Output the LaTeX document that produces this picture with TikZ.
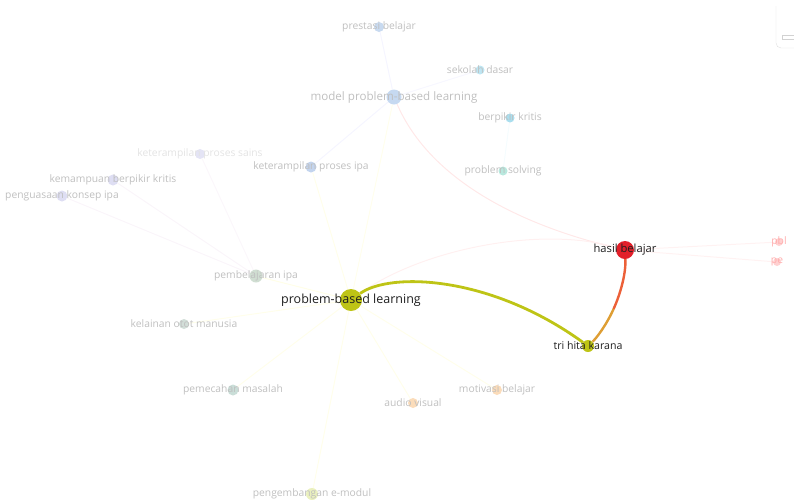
\documentclass[tikz,border=0pt]{standalone}
\usepackage{fontspec}
\setmainfont{Open Sans}
\usetikzlibrary{backgrounds}

\definecolor{pblgreen}{RGB}{190,196,22}
\definecolor{hasilred}{RGB}{226,32,42}
\definecolor{linklow}{RGB}{222,158,52}
\definecolor{linkhigh}{RGB}{236,96,56}

\begin{document}
\begin{tikzpicture}[x=1pt,y=-1pt,
  dot/.style={circle,inner sep=0pt,minimum size=#1},
  lab/.style={text=gray!50,inner sep=0pt,font=\fontsize{10.3}{10}\selectfont},
  hot/.style={text=black!88,inner sep=0pt,font=\fontsize{11.2}{11}\selectfont},
  weak/.style={line width=1pt,draw=#1}]
\useasboundingbox (0,0) rectangle (794,499);
\clip (0,0) rectangle (794,499);

% blue cluster
\node[dot=10,fill={rgb,255:red,200;green,218;blue,240},label={[lab]center:prestasi belajar}] (prestasi) at (379,27) {};
\node[dot=9,fill={rgb,255:red,190;green,230;blue,243},label={[lab]center:sekolah dasar}] (sekolah) at (480,70) {};
\node[dot=15,fill={rgb,255:red,198;green,217;blue,241},label={[lab,font=\fontsize{11.6}{11}\selectfont]center:model problem-based learning}] (mpbl) at (394,97) {};
\node[dot=9,fill={rgb,255:red,170;green,222;blue,238},label={[lab]center:berpikir kritis}] (kritis) at (510,118) {};
\node[dot=11,fill={rgb,255:red,195;green,212;blue,238},label={[lab]center:keterampilan proses ipa}] (kpi) at (311,167) {};
\node[dot=9,fill={rgb,255:red,185;green,232;blue,222},label={[lab]center:problem solving}] (solving) at (503,171) {};

% purple cluster
\node[dot=10,fill={rgb,255:red,228;green,228;blue,245},label={[lab,text=gray!22]center:keterampilan proses sains}] (kps) at (200,154) {};
\node[dot=11,fill={rgb,255:red,222;green,222;blue,243},label={[lab]center:kemampuan berpikir kritis}] (kbk) at (113,180) {};
\node[dot=11,fill={rgb,255:red,222;green,222;blue,243},label={[lab]center:penguasaan konsep ipa}] (konsep) at (62,196) {};

% green cluster
\node[dot=13,fill={rgb,255:red,208;green,222;blue,210},label={[lab]center:pembelajaran ipa}] (pipa) at (256,276) {};
\node[dot=10,fill={rgb,255:red,210;green,222;blue,216},label={[lab]center:kelainan otot manusia}] (otot) at (184,324) {};
\node[dot=11,fill={rgb,255:red,202;green,222;blue,216},label={[lab]center:pemecahan masalah}] (masalah) at (233,390) {};

% orange cluster
\node[dot=10,fill={rgb,255:red,251;green,220;blue,186},label={[lab]center:audio visual}] (audio) at (413,403) {};
\node[dot=10,fill={rgb,255:red,251;green,220;blue,186},label={[lab]center:motivasi belajar}] (motivasi) at (497,390) {};
\node[dot=12,fill={rgb,255:red,234;green,240;blue,190},label={[lab]center:pengembangan e-modul}] (emodul) at (312,494) {};

% pink cluster (cut at the edge)
\node[dot=8,fill=red!18,label={[lab,text=red!32]center:pbl}] (pblx) at (779,242) {};
\node[dot=8,fill=red!18,label={[lab,text=red!32]center:pe}] (pe) at (777,262) {};

% selected items
\node[dot=22,fill=pblgreen,label={[hot,font=\fontsize{12.5}{12}\selectfont]center:problem-based learning}] (pbl) at (351,300) {};
\node[dot=18,fill=hasilred,label={[hot]center:hasil belajar}] (hasil) at (625,250) {};
\node[dot=12,fill=pblgreen,label={[hot,font=\fontsize{10.6}{10}\selectfont]center:tri hita karana}] (thk) at (588,346) {};
\coordinate (bend) at (613.6,308.9);

\begin{scope}[on background layer]
% faint links
\draw[weak=blue!4] (mpbl) -- (prestasi);
\draw[weak=blue!3] (mpbl) -- (sekolah);
\draw[weak=blue!4] (mpbl) -- (kpi);
\draw[weak=cyan!4] (kritis) -- (solving);
\draw[weak=red!9] (mpbl) .. controls (430,180) and (520,225) .. (hasil);
\draw[weak=red!6] (pbl) .. controls (420,250) and (540,225) .. (hasil);
\draw[weak=red!5] (hasil) -- (pblx);
\draw[weak=red!5] (hasil) -- (pe);
\draw[weak=violet!4] (pipa) -- (kbk);
\draw[weak=violet!4] (pipa) -- (konsep);
\draw[weak=violet!3] (pipa) -- (kps);
\draw[weak=yellow!9] (pbl) -- (pipa);
\draw[weak=yellow!8] (pbl) -- (kpi);
\draw[weak=yellow!8] (pbl) -- (otot);
\draw[weak=yellow!8] (pbl) -- (masalah);
\draw[weak=yellow!8] (pbl) -- (audio);
\draw[weak=yellow!8] (pbl) -- (motivasi);
\draw[weak=yellow!8] (pbl) -- (emodul);
\draw[weak=yellow!7] (pbl) -- (mpbl);
% strong links
\draw[pblgreen, line width=2.8pt] (pbl) .. controls (390,272) and (490,275) .. (thk);
\draw[linklow, line width=2.4pt] (thk) .. controls (596.5,338) and (606.25,325.25) .. (bend);
\draw[linkhigh, line width=2.4pt] (bend) .. controls (621,292.5) and (626,272.5) .. (hasil);
\end{scope}

% panel at the top right
\draw[gray!25, rounded corners=5pt] (776,6) -- (776,48) -- (800,48);
\draw[gray!35] (782,35) rectangle (800,39);
\end{tikzpicture}
\end{document}
